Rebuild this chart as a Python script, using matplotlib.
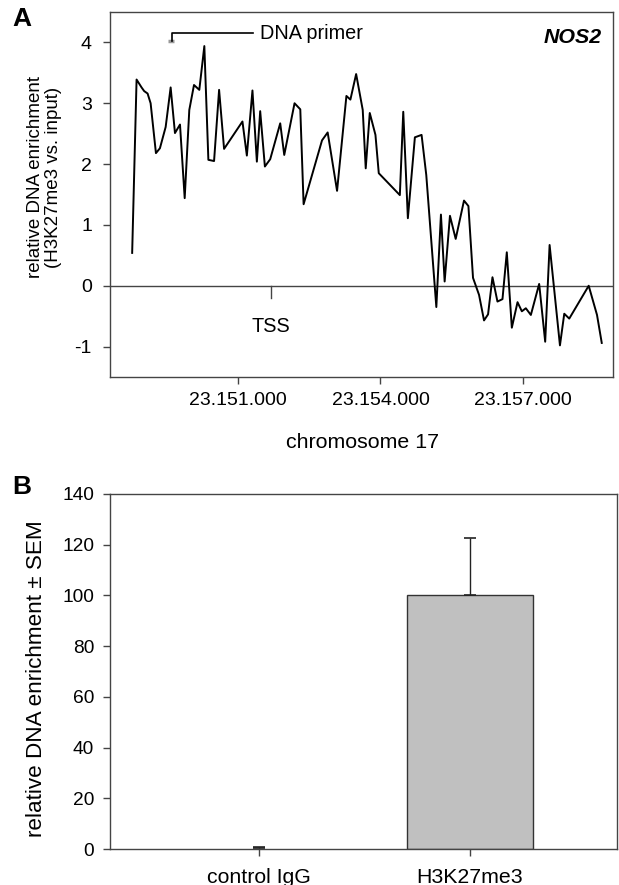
import matplotlib
matplotlib.use("Agg")
import matplotlib.pyplot as plt
import numpy as np

plt.rcParams['font.family'] = ['Liberation Sans', 'DejaVu Sans']

# ---------------- Panel A data ----------------
positions = [23148767, 23148860, 23148965, 23149020, 23149092, 23149156, 23149268, 23149352,
             23149473, 23149578, 23149669, 23149775, 23149874, 23149971, 23150070, 23150182,
             23150288, 23150373, 23150493, 23150599, 23150704, 23151091, 23151184, 23151302,
             23151395, 23151465, 23151564, 23151676, 23151887, 23151972, 23152189, 23152310,
             23152380, 23152768, 23152887, 23153085, 23153282, 23153366, 23153487, 23153626,
             23153689, 23153774, 23153894, 23153964, 23154408, 23154480, 23154577, 23154725,
             23154866, 23154965, 23155177, 23155274, 23155352, 23155464, 23155585, 23155760,
             23155853, 23155950, 23156077, 23156182, 23156267, 23156360, 23156465, 23156571,
             23156662, 23156768, 23156888, 23156979, 23157063, 23157169, 23157344, 23157471,
             23157564, 23157782, 23157873, 23157978, 23158388, 23158563, 23158663]
enrichment = [0.54, 3.39, 3.26, 3.20, 3.16, 3.00, 2.18, 2.26,
              2.61, 3.26, 2.51, 2.65, 1.44, 2.89, 3.30, 3.22,
              3.94, 2.07, 2.05, 3.22, 2.25, 2.70, 2.14, 3.21,
              2.04, 2.87, 1.96, 2.08, 2.67, 2.15, 3.00, 2.90,
              1.34, 2.39, 2.52, 1.56, 3.12, 3.06, 3.48, 2.89,
              1.93, 2.84, 2.48, 1.85, 1.49, 2.86, 1.11, 2.44,
              2.48, 1.82, -0.35, 1.17, 0.07, 1.15, 0.77, 1.40,
              1.31, 0.13, -0.15, -0.57, -0.47, 0.14, -0.26, -0.22,
              0.55, -0.69, -0.27, -0.42, -0.37, -0.48, 0.03, -0.92,
              0.67, -0.98, -0.46, -0.54, 0.00, -0.48, -0.94]
xticks_a = [23151000, 23154000, 23157000]
xticklabels_a = ["23.151.000", "23.154.000", "23.157.000"]
yticks_a = [-1, 0, 1, 2, 3, 4]
tss_position = 23151697
primer_start, primer_end, primer_level = 23149527, 23149648, 4.02

# ---------------- Panel B data ----------------
categories = ["control IgG", "H3K27me3"]
bar_values = [0.3, 100.0]
bar_errors = [0.3, 22.5]
yticks_b = [0, 20, 40, 60, 80, 100, 120, 140]

SPINE = '#444444'
fig = plt.figure(figsize=(6.19, 8.85), dpi=100)

# ---------------- Panel A ----------------
axA = fig.add_axes([110/619, 1-377/885, 503/619, 365/885])
axA.plot(positions, enrichment, color='black', lw=1.4, zorder=3)
axA.axhline(0, color=SPINE, lw=1.0, zorder=2)
axA.set_xlim(23148300, 23158900)
axA.set_ylim(-1.5, 4.5)
axA.set_xticks(xticks_a)
axA.set_xticklabels(xticklabels_a, fontsize=14)
axA.set_yticks(yticks_a)
axA.set_yticklabels([str(v) for v in yticks_a], fontsize=14)
axA.tick_params(direction='out', length=5, width=1, color=SPINE)
axA.tick_params(axis='x', pad=6)
axA.tick_params(axis='y', pad=8)
for s in axA.spines.values():
    s.set_color(SPINE)
    s.set_linewidth(1.0)
fig.text(363/619, 1-443/885, "chromosome 17", fontsize=15.4, ha='center', va='center')
fig.text(44.5/619, 1-177/885, "relative DNA enrichment\n(H3K27me3 vs. input)", fontsize=13.5,
         rotation=90, ha='center', va='center', multialignment='center', linespacing=1.1)
# TSS marker
axA.plot([tss_position, tss_position], [0, -0.2], color=SPINE, lw=1.0)
axA.text(tss_position, -0.67, "TSS", ha='center', va='center', fontsize=14.3)
# primer annotation
axA.plot([primer_start, primer_end], [primer_level, primer_level], color='#999999', lw=2.5,
         solid_capstyle='butt')
axA.plot([23149599, 23149599, 23151311], [4.03, 4.16, 4.16], color='black', lw=1.2)
axA.text(23151465, 4.15, "DNA primer", ha='left', va='center', fontsize=14.3)
axA.text(0.978, 0.929, "NOS2", transform=axA.transAxes, ha='right', va='center',
         fontsize=15.4, fontweight='bold', fontstyle='italic')
fig.text(12/619, 1-19/885, "A", fontsize=19, fontweight='bold', ha='left', va='center')

# ---------------- Panel B ----------------
axB = fig.add_axes([110/619, 1-849/885, 507/619, 355/885])
xb = np.arange(len(categories))
axB.bar(xb, bar_values, width=0.60, color=['white', '#c0c0c0'], edgecolor=['none', '#333333'],
        lw=1.0, zorder=1)
axB.errorbar(xb, bar_values, yerr=[np.zeros(len(bar_errors)), bar_errors], fmt='none',
             ecolor='#222222', elinewidth=1.0, capsize=4, capthick=1.2, zorder=3)
axB.set_xlim(-0.706, 1.697)
axB.set_ylim(0, 140)
axB.set_xticks(xb)
axB.set_xticklabels(categories, fontsize=15.3)
axB.set_yticks(yticks_b)
axB.set_yticklabels([str(v) for v in yticks_b], fontsize=13.8)
axB.tick_params(direction='out', length=5, width=1, color=SPINE)
axB.tick_params(axis='x', pad=9)
axB.tick_params(axis='y', pad=6.5)
for s in axB.spines.values():
    s.set_color(SPINE)
    s.set_linewidth(1.0)
fig.text(37/619, 1-679/885, "relative DNA enrichment \u00b1 SEM", fontsize=16.2,
         rotation=90, ha='center', va='center')
fig.text(12/619, 1-487/885, "B", fontsize=19, fontweight='bold', ha='left', va='center')

fig.savefig("out.png", dpi=100)
